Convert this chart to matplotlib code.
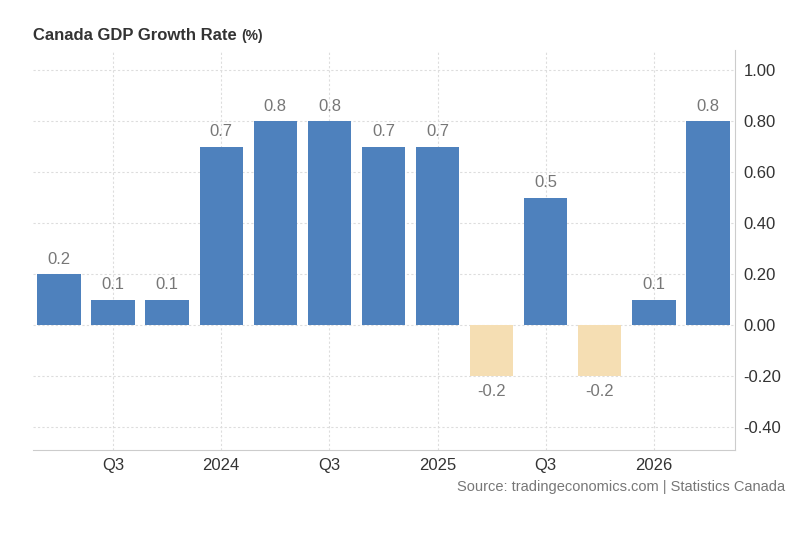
import matplotlib
matplotlib.use('Agg')
import matplotlib.pyplot as plt

plt.rcParams['font.family'] = ['Liberation Sans', 'DejaVu Sans']

values = [0.2, 0.1, 0.1, 0.7, 0.8, 0.8, 0.7, 0.7, -0.2, 0.5, -0.2, 0.1, 0.8]
tick_pos = [1, 3, 5, 7, 9, 11]
tick_labels = ['Q3', '2024', 'Q3', '2025', 'Q3', '2026']
y_ticks = [-0.4, -0.2, 0.0, 0.2, 0.4, 0.6, 0.8, 1.0]

fig = plt.figure(figsize=(8, 5.46), dpi=100)
ax = fig.add_axes([33/800, 1 - 450/546, (735 - 33)/800, 400/546])

x = range(len(values))
colors = ['#4e81bd' if v >= 0 else '#f5deb3' for v in values]
ax.bar(x, values, width=0.8, color=colors, zorder=2)

for i, v in enumerate(values):
    off = 0.03 if v >= 0 else -0.03
    ax.text(i, v + off, f'{v:.1f}', ha='center', va='bottom' if v >= 0 else 'top',
            fontsize=12, color='#777777')

ax.set_xlim(-0.48, 12.5)
ax.set_ylim(-0.49, 1.08)
ax.set_xticks(tick_pos)
ax.set_xticklabels(tick_labels)
ax.set_yticks(y_ticks)
ax.set_yticklabels([f'{t:.2f}' for t in y_ticks])
ax.yaxis.tick_right()
ax.tick_params(length=0, labelsize=12, colors='#333333', pad=6)
ax.grid(True, color='#dddddd', linestyle=(0, (2, 2)), linewidth=0.8, zorder=0)
for s in ['top', 'left']:
    ax.spines[s].set_visible(False)
ax.spines['right'].set_color('#cccccc')
ax.spines['bottom'].set_color('#cccccc')

title = fig.text(33/800, 1 - 35/546, 'Canada GDP Growth Rate', fontsize=12, fontweight='bold',
                 color='#333333', va='center')
ax.annotate('(%)', xy=(1, 0.5), xycoords=title, xytext=(3, -1), textcoords='offset points',
            fontsize=10, fontweight='bold', color='#333333', va='center')
fig.text(785/800, 1 - 487/546, 'Source: tradingeconomics.com | Statistics Canada', fontsize=10.5,
         color='#777777', ha='right', va='center')

fig.savefig('out.png', dpi=100)
